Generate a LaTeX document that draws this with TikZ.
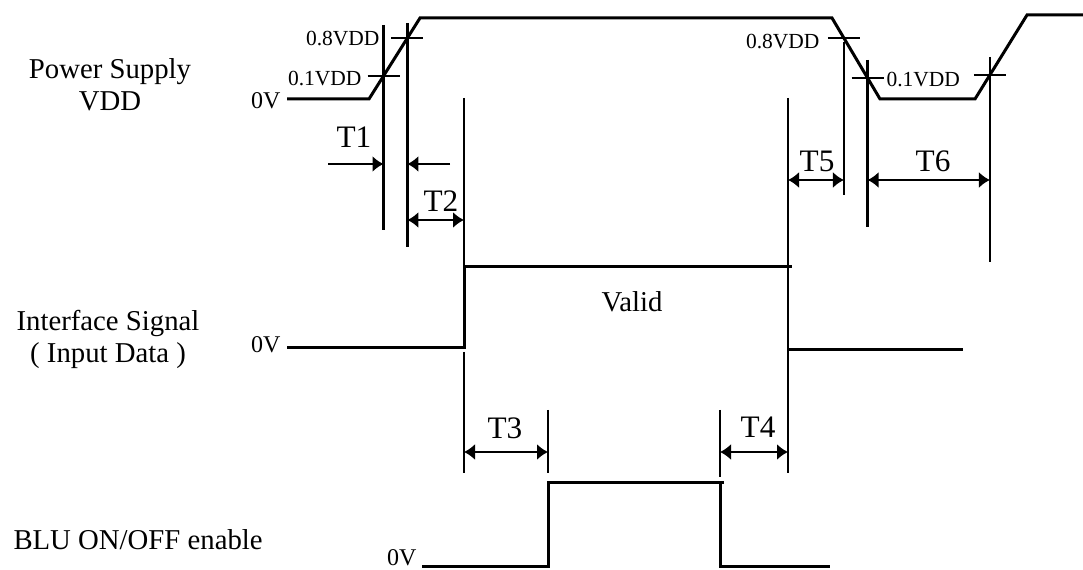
\documentclass[tikz,border=0pt]{standalone}
\usepackage{fontspec}
\setmainfont{Liberation Serif}
\usetikzlibrary{arrows.meta}

\begin{document}
\begin{tikzpicture}
  [x=0.4pt, y=-0.4pt,
    wave/.style={line width=1.2pt},
    guide/.style={line width=1.1pt},
    tick/.style={line width=0.9pt},
    ar/.style={line width=0.9pt, -{Latex[length=4.4pt,width=6.5pt]}},
    dim/.style={line width=0.9pt,
      {Latex[length=4.4pt,width=6.5pt]}-{Latex[length=4.4pt,width=6.5pt]}},
    tag/.style={font=\fontsize{11.5}{12.8}\selectfont, inner sep=0pt},
    lvl/.style={font=\fontsize{8.6}{10}\selectfont, inner sep=0pt},
    zero/.style={font=\fontsize{9.6}{10}\selectfont, inner sep=0pt, anchor=east},
    tname/.style={font=\fontsize{12.5}{13}\selectfont, inner sep=0pt}]
  \useasboundingbox (0,0) rectangle (1083,570);

  % power supply
  \coordinate (vdd0) at (287,99);
  \coordinate (up1) at (369,99);
  \coordinate (c1) at (383.5,76);
  \coordinate (c2) at (407.4,38);
  \coordinate (top1) at (420,18);
  \coordinate (top2) at (832,18);
  \coordinate (c5) at (843.9,38);
  \coordinate (c6) at (867.6,78);
  \coordinate (dn2) at (880,99);
  \coordinate (up3) at (975,99);
  \coordinate (c7) at (989.9,75);
  \coordinate (top3) at (1027,15);
  \coordinate (vddend) at (1083,15);
  \draw[wave] (vdd0) -- (up1) -- (top1) -- (top2) -- (dn2) -- (up3) -- (top3) -- (vddend);
  \foreach \c in {c1,c2,c5,c6,c7}
    \draw[tick] ([xshift=-6.4pt]\c) -- ([xshift=6.4pt]\c);

  % interface signal
  \coordinate (if0) at (287,348);
  \coordinate (ifup) at (464,348);
  \coordinate (ifhi) at (464,267);
  \coordinate (ifdn) at (788,267);
  \coordinate (iflo) at (788,350);
  \coordinate (ifend) at (963,350);
  \draw[wave] (if0) -- (ifup) -- (ifhi) -- ([xshift=1.6pt]ifdn);
  \draw[wave] (iflo) -- (ifend);

  % BLU enable
  \coordinate (blu0) at (422,566);
  \coordinate (bluup) at (548,566);
  \coordinate (bluhi) at (548,483);
  \coordinate (bludn) at (720,483);
  \coordinate (blulo) at (720,566);
  \coordinate (bluend) at (830,566);
  \draw[wave] (blu0) -- (bluup) -- (bluhi) -- ([xshift=1.6pt]bludn);
  \draw[wave] (bludn) -- (blulo) -- (bluend);

  % guide lines
  \draw[guide] (383.5,25) -- (383.5,230);
  \draw[guide] (407.4,23) -- (407.4,247);
  \draw[guide] (464,98) -- (ifhi);
  \draw[guide] (464,352) -- (464,473);
  \draw[guide] (788,98) -- (788,473);
  \draw[guide] (843.9,42) -- (843.9,195);
  \draw[guide] (867.6,60) -- (867.6,227);
  \draw[guide] (989.9,57) -- (989.9,262);
  \draw[guide] (548,410) -- (548,473);
  \draw[guide] (720,410) -- (720,477);

  % timing arrows
  \coordinate (t1l) at (328,164);
  \coordinate (t1r) at (450,164);
  \draw[ar] (t1l) -- (t1l -| c1);
  \draw[ar] (t1r) -- (t1r -| c2);
  \draw[dim] (407.4,220) -- (464,220);
  \draw[dim] (464,452) -- (548,452);
  \draw[dim] (720,452) -- (788,452);
  \draw[dim] (788,180) -- (843.9,180);
  \draw[dim] (867.6,180) -- (989.9,180);

  % labels
  \node[tag, align=center] (vddlbl) at (110,85) {Power Supply\\VDD};
  \node[tag, align=center] (iflbl) at (108,339) {Interface Signal\\( Input Data )};
  \node[tag, anchor=west] (blulbl) at (13,540) {BLU ON/OFF enable};
  \node[zero] (vdd0v) at (281,101) {0V};
  \node[zero] (if0v) at (281,345) {0V};
  \node[zero] (blu0v) at (417,558) {0V};
  \node[lvl, anchor=east] (lvl8a) at (380,39) {0.8VDD};
  \node[lvl, anchor=east] (lvl1a) at (362,79) {0.1VDD};
  \node[lvl, anchor=east] (lvl8b) at (820,42) {0.8VDD};
  \node[lvl, anchor=west] (lvl1b) at (886,80) {0.1VDD};
  \node[tag] (valid) at (632,302) {Valid};
  \node[tname] (t1) at (354,137) {T1};
  \node[tname] (t2) at (441,201) {T2};
  \node[tname] (t3) at (505,428) {T3};
  \node[tname] (t4) at (758,427) {T4};
  \node[tname] (t5) at (817,161) {T5};
  \node[tname] (t6) at (933,161) {T6};
\end{tikzpicture}
\end{document}
